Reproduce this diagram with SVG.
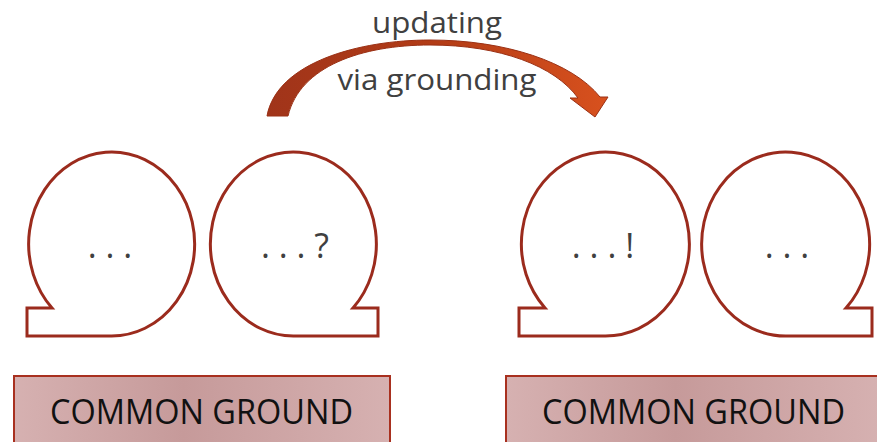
<svg xmlns="http://www.w3.org/2000/svg" width="877" height="442" viewBox="0 0 877 442">
  <defs>
    <linearGradient id="boxGrad" x1="0" y1="0" x2="1" y2="0">
      <stop offset="0" stop-color="#d6b1b1"/>
      <stop offset="0.45" stop-color="#c69a9a"/>
      <stop offset="1" stop-color="#d6b1b1"/>
    </linearGradient>
    <linearGradient id="arrowGrad" x1="267" y1="0" x2="608" y2="0" gradientUnits="userSpaceOnUse">
      <stop offset="0" stop-color="#a0341a"/>
      <stop offset="0.5" stop-color="#b33c16"/>
      <stop offset="1" stop-color="#d8511e"/>
    </linearGradient>
    <style>
      .bubble { fill: #ffffff; stroke: #9b2b1d; stroke-width: 3; }
      .btext { font-family: "Open Sans", "Liberation Sans", sans-serif; font-size: 34px; fill: #404040; text-anchor: middle; }
      .box { fill: url(#boxGrad); stroke: #a8301f; stroke-width: 2; }
      .cg { font-family: "Open Sans", "Liberation Sans", sans-serif; font-size: 34px; fill: #111111; text-anchor: middle; }
      .label { font-family: "Open Sans", "Liberation Sans", sans-serif; font-size: 30px; fill: #404040; text-anchor: middle; }
    </style>
  </defs>

  <g id="connectors">
    <g id="arrow">
      <path d="M 267 116 C 277 62, 360 40, 430 40 C 505 40, 572 62, 600 97 L 608 97 L 595 117 L 570 98 L 578 98 C 555 66, 500 45, 430 45 C 362 45, 300 66, 288 116 Z" fill="url(#arrowGrad)" stroke="#9a3014" stroke-width="1" stroke-linejoin="miter"/>
    </g>
    <text class="label" x="437" y="33" textLength="130" lengthAdjust="spacingAndGlyphs">updating</text>
    <text class="label" x="437" y="90" textLength="199" lengthAdjust="spacingAndGlyphs">via grounding</text>
  </g>

  <g id="bubble1">
    <path class="bubble" d="M 52 308 A 83 92 0 1 1 110 336 L 27 336 L 27 308 Z"/>
    <text class="btext" x="110" y="258">. . .</text>
  </g>
  <g id="bubble2">
    <path class="bubble" d="M 295 336 A 83 92 0 1 1 353 308 L 378 308 L 378 336 Z"/>
    <text class="btext" x="295" y="258">. . . ?</text>
  </g>
  <g id="bubble3">
    <path class="bubble" d="M 545 308 A 84 92 0 1 1 603 336 L 519 336 L 519 308 Z"/>
    <text class="btext" x="603" y="258">. . . !</text>
  </g>
  <g id="bubble4">
    <path class="bubble" d="M 787.5 336 A 84 92 0 1 1 846 308 L 872 308 L 872 336 Z"/>
    <text class="btext" x="787" y="258">. . .</text>
  </g>

  <g id="ground1">
    <rect class="box" x="14" y="376" width="376" height="80"/>
    <text class="cg" x="201.5" y="424" textLength="303" lengthAdjust="spacingAndGlyphs">COMMON GROUND</text>
  </g>
  <g id="ground2">
    <rect class="box" x="506" y="376" width="376" height="80"/>
    <text class="cg" x="693.5" y="424" textLength="303" lengthAdjust="spacingAndGlyphs">COMMON GROUND</text>
  </g>
</svg>
